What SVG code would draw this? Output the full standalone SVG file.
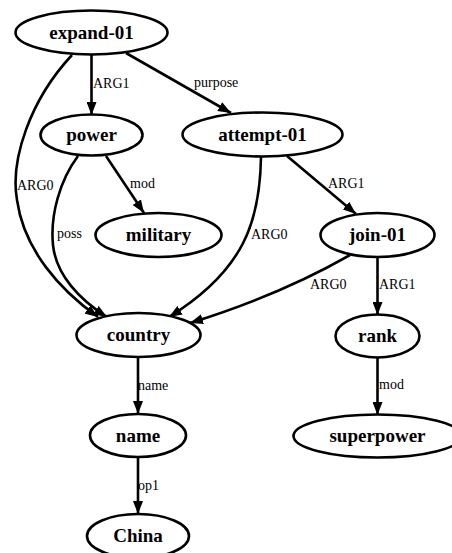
<svg xmlns="http://www.w3.org/2000/svg" width="452" height="553" viewBox="0 0 452 553">
<style>
.n ellipse{fill:#fff;stroke:#000;stroke-width:2.6}
.n text{font-family:"Liberation Serif",serif;font-weight:bold;font-size:19px;text-anchor:middle;fill:#000}
.e path{fill:none;stroke:#000;stroke-width:2.6}
.e text{font-family:"Liberation Serif",serif;font-size:14px;fill:#000}
</style>
<defs>
<marker id="a" viewBox="0 0 13 10" refX="13" refY="5" markerWidth="13" markerHeight="10" markerUnits="userSpaceOnUse" orient="auto">
<path d="M0,0 L13,5 L0,10 z" fill="#000"/>
</marker>
</defs>
<rect width="452" height="553" fill="#fff"/>
<g class="e" id="edges">
<path d="M91.5,55 L91.5,115" marker-end="url(#a)"/>
<text x="93" y="88">ARG1</text>
<path d="M126,53 L231,113" marker-end="url(#a)"/>
<text x="194" y="87">purpose</text>
<path d="M72,55 C30,100 10,160 17,200 C24,250 60,290 98,317" marker-end="url(#a)"/>
<text x="17" y="190">ARG0</text>
<path d="M78,156 C60,180 50,215 53,245 C56,275 80,300 107,317" marker-end="url(#a)"/>
<text x="57" y="238">poss</text>
<path d="M106,156 L144,213" marker-end="url(#a)"/>
<text x="130" y="188">mod</text>
<path d="M261,157 C260,220 245,270 169,317" marker-end="url(#a)"/>
<text x="251" y="239">ARG0</text>
<path d="M287,156 L356,214" marker-end="url(#a)"/>
<text x="328" y="188">ARG1</text>
<path d="M350,255 Q280,295 190,323" marker-end="url(#a)"/>
<text x="310" y="289">ARG0</text>
<path d="M377.5,257 L377.5,315" marker-end="url(#a)"/>
<text x="379" y="289">ARG1</text>
<path d="M138,357 L138,414" marker-end="url(#a)"/>
<text x="138" y="390">name</text>
<path d="M138,457 L138,514" marker-end="url(#a)"/>
<text x="138" y="490">op1</text>
<path d="M377.5,358 L377.5,415" marker-end="url(#a)"/>
<text x="379" y="389">mod</text>
</g>
<g class="n" id="expand-01"><ellipse cx="91.5" cy="32.5" rx="76" ry="22"/><text x="91.5" y="39">expand-01</text></g>
<g class="n" id="power"><ellipse cx="91.5" cy="135" rx="51" ry="20.5"/><text x="91.5" y="141">power</text></g>
<g class="n" id="attempt-01"><ellipse cx="262.5" cy="134.5" rx="80" ry="22"/><text x="262.5" y="141">attempt-01</text></g>
<g class="n" id="military"><ellipse cx="158.5" cy="235" rx="63" ry="22"/><text x="158.5" y="241">military</text></g>
<g class="n" id="join-01"><ellipse cx="377.5" cy="235" rx="57" ry="22"/><text x="377.5" y="241">join-01</text></g>
<g class="n" id="country"><ellipse cx="138.5" cy="335" rx="62" ry="22"/><text x="138.5" y="341">country</text></g>
<g class="n" id="rank"><ellipse cx="377.5" cy="336" rx="42" ry="21.5"/><text x="377.5" y="342">rank</text></g>
<g class="n" id="name"><ellipse cx="138" cy="435.5" rx="48" ry="21.5"/><text x="138" y="441.5">name</text></g>
<g class="n" id="superpower"><ellipse cx="377.5" cy="436" rx="84" ry="21.5"/><text x="377.5" y="442">superpower</text></g>
<g class="n" id="China"><ellipse cx="138" cy="536" rx="51" ry="22"/><text x="138" y="542">China</text></g>
</svg>
